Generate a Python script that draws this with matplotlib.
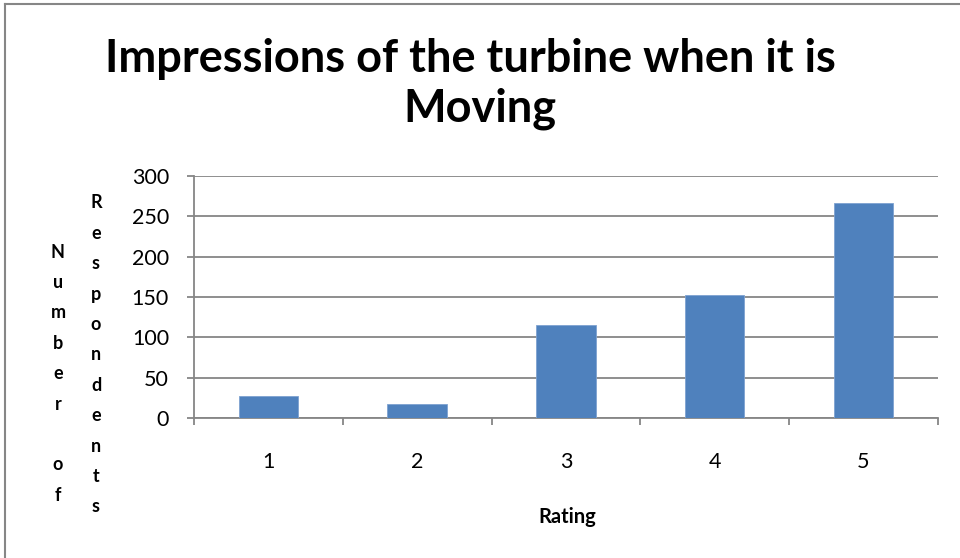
import numpy as np
import matplotlib.pyplot as plt
from matplotlib.lines import Line2D

ratings = ['1', '2', '3', '4', '5']
respondents = [28, 18, 115, 152, 266]
yticks = [0, 50, 100, 150, 200, 250, 300]
title_lines = ['Impressions of the turbine when it is', 'Moving']
ylabel_cols = ['Number of', 'Respondents']
xlabel = 'Rating'

plt.rcParams['font.family'] = ['Lato', 'DejaVu Sans']
grey = '#868686'

fig = plt.figure(figsize=(9.6, 5.58), dpi=100)
ax = fig.add_axes([0.2021, 0.2504, 0.7747, 0.4347])

x = np.arange(len(ratings))
ax.bar(x, respondents, width=0.4, color='#4F81BD', edgecolor='#7EA2D0',
       linewidth=0.6, zorder=3)

ax.set_xlim(-0.5, len(ratings) - 0.5)
ax.set_ylim(0, 300)
ax.set_yticks(yticks)
ax.set_yticklabels([str(v) for v in yticks])
ax.set_xticks(x)
ax.set_xticklabels(ratings)
ax.set_xticks(np.arange(len(ratings) + 1) - 0.5, minor=True)

ax.grid(axis='y', color=grey, linewidth=1.3, zorder=0)
for side in ['top', 'right']:
    ax.spines[side].set_visible(False)
for side in ['left', 'bottom']:
    ax.spines[side].set_color(grey)
    ax.spines[side].set_linewidth(1.3)

ax.tick_params(axis='y', length=5, width=1.3, color=grey, pad=13,
               labelsize=15.5, labelcolor='black')
ax.tick_params(axis='x', which='major', length=0, pad=24,
               labelsize=15.5, labelcolor='black')
ax.tick_params(axis='x', which='minor', length=5, width=1.3, color=grey,
               direction='out')

# two-line title, each line placed by its baseline
for (cx, base), line in zip([(470, 72), (480, 122)], title_lines):
    fig.text(cx / 960, 1 - base / 558, line, ha='center', va='baseline',
             fontsize=32.5, fontweight='bold')

# stacked vertical y label, one column per word
col_x = [58, 96]
col_top = [252, 203]
for cx, top, word in zip(col_x, col_top, ylabel_cols):
    for i, ch in enumerate(word):
        if ch == ' ':
            continue
        fig.text(cx / 960, 1 - (top + i * 30.4) / 558, ch, ha='center',
                 va='center', fontsize=13, fontweight='bold')

fig.text(567 / 960, 1 - 517 / 558, xlabel, ha='center', va='center',
         fontsize=14.5, fontweight='bold')

# chart frame (only left and top edges visible in the crop)
fig.add_artist(Line2D([5 / 960, 5 / 960], [0, 1 - 4 / 558],
                      transform=fig.transFigure, color=grey, linewidth=1.5))
fig.add_artist(Line2D([5 / 960, 1], [1 - 4 / 558, 1 - 4 / 558],
                      transform=fig.transFigure, color=grey, linewidth=1.5))

fig.savefig('out.png', dpi=100)
